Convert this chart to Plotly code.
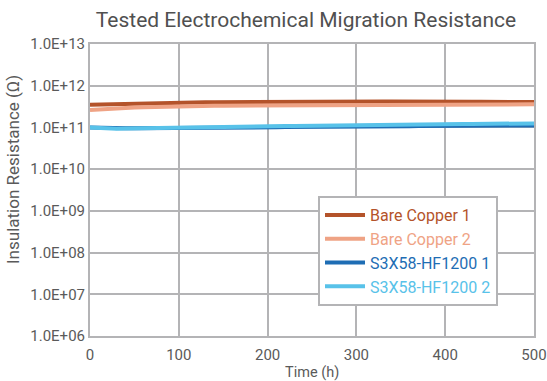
import plotly.graph_objects as go

time_h = list(range(0, 501, 10))

bare_copper_1 = [3.50e11, 3.55e11, 3.60e11, 3.68e11, 3.75e11, 3.80e11, 3.85e11, 3.90e11, 3.93e11, 3.96e11,
                 3.98e11, 4.00e11, 4.01e11, 4.02e11, 4.03e11, 4.05e11, 4.04e11, 4.06e11, 4.07e11, 4.06e11,
                 4.08e11, 4.10e11, 4.09e11, 4.11e11, 4.10e11, 4.12e11, 4.13e11, 4.12e11, 4.14e11, 4.15e11,
                 4.16e11, 4.18e11, 4.17e11, 4.19e11, 4.18e11, 4.20e11, 4.19e11, 4.21e11, 4.20e11, 4.19e11,
                 4.18e11, 4.17e11, 4.16e11, 4.15e11, 4.14e11, 4.12e11, 4.11e11, 4.10e11, 4.08e11, 4.06e11,
                 4.05e11]

bare_copper_2 = [2.60e11, 2.70e11, 2.80e11, 2.88e11, 2.95e11, 3.00e11, 3.05e11, 3.10e11, 3.14e11, 3.18e11,
                 3.22e11, 3.25e11, 3.28e11, 3.30e11, 3.31e11, 3.33e11, 3.34e11, 3.35e11, 3.36e11, 3.37e11,
                 3.38e11, 3.39e11, 3.40e11, 3.40e11, 3.41e11, 3.42e11, 3.43e11, 3.44e11, 3.45e11, 3.46e11,
                 3.47e11, 3.47e11, 3.48e11, 3.49e11, 3.50e11, 3.50e11, 3.51e11, 3.52e11, 3.52e11, 3.53e11,
                 3.53e11, 3.54e11, 3.54e11, 3.55e11, 3.55e11, 3.55e11, 3.56e11, 3.56e11, 3.57e11, 3.57e11,
                 3.58e11]

s3x58_1 = [1.00e11, 0.98e11, 0.96e11, 0.95e11, 0.95e11, 0.96e11, 0.96e11, 0.97e11, 0.97e11, 0.97e11,
           0.98e11, 0.98e11, 0.98e11, 0.99e11, 0.99e11, 0.99e11, 1.00e11, 1.00e11, 1.00e11, 1.01e11,
           1.01e11, 1.01e11, 1.02e11, 1.02e11, 1.03e11, 1.03e11, 1.03e11, 1.04e11, 1.04e11, 1.05e11,
           1.05e11, 1.05e11, 1.06e11, 1.06e11, 1.07e11, 1.07e11, 1.07e11, 1.08e11, 1.08e11, 1.08e11,
           1.09e11, 1.09e11, 1.09e11, 1.10e11, 1.10e11, 1.10e11, 1.11e11, 1.11e11, 1.11e11, 1.12e11,
           1.12e11]

s3x58_2 = [1.00e11, 0.97e11, 0.94e11, 0.93e11, 0.94e11, 0.95e11, 0.96e11, 0.97e11, 0.98e11, 0.99e11,
           1.00e11, 1.01e11, 1.02e11, 1.02e11, 1.03e11, 1.04e11, 1.04e11, 1.05e11, 1.05e11, 1.06e11,
           1.07e11, 1.07e11, 1.08e11, 1.08e11, 1.09e11, 1.10e11, 1.10e11, 1.11e11, 1.12e11, 1.12e11,
           1.13e11, 1.14e11, 1.14e11, 1.15e11, 1.16e11, 1.16e11, 1.17e11, 1.18e11, 1.18e11, 1.19e11,
           1.20e11, 1.20e11, 1.21e11, 1.21e11, 1.22e11, 1.22e11, 1.23e11, 1.23e11, 1.24e11, 1.24e11,
           1.25e11]

series_names = ["Bare Copper 1", "Bare Copper 2", "S3X58-HF1200 1", "S3X58-HF1200 2"]
series_values = [bare_copper_1, bare_copper_2, s3x58_1, s3x58_2]
series_colors = ["#B4532A", "#EFA385", "#1E6DB4", "#58C2E9"]

y_tickvals = [1e6, 1e7, 1e8, 1e9, 1e10, 1e11, 1e12, 1e13]
y_ticktext = ["1.0E+06", "1.0E+07", "1.0E+08", "1.0E+09", "1.0E+10", "1.0E+11", "1.0E+12", "1.0E+13"]
x_tickvals = [0, 100, 200, 300, 400, 500]

FONT = "Roboto, 'Noto Sans', sans-serif"
TEXT = "#5a5a5a"
GRID = "#b4b4b6"

fig = go.Figure()
for name, vals, col in zip(series_names, series_values, series_colors):
    fig.add_trace(go.Scatter(x=time_h, y=vals, mode="lines",
                             name=f"<span style='color:{col}'>{name}</span>",
                             line=dict(color=col, width=4)))

fig.update_layout(
    width=547, height=381,
    margin=dict(l=90, r=13, t=44, b=45, autoexpand=False),
    paper_bgcolor="white", plot_bgcolor="white",
    font=dict(family=FONT, color=TEXT, size=14),
    title=dict(text="Tested Electrochemical Migration Resistance",
               x=306 / 547, xref="container", xanchor="center",
               y=1 - 20 / 381, yref="container", yanchor="middle",
               font=dict(size=21, color="#505050", family=FONT)),
    xaxis=dict(range=[0, 500], tickvals=x_tickvals, showgrid=True, gridcolor=GRID, gridwidth=1.5,
               showline=True, linecolor=GRID, linewidth=2, mirror=True, zeroline=False,
               ticks="", tickfont=dict(size=15, color=TEXT), ticklabelstandoff=4, automargin=False),
    yaxis=dict(type="log", range=[6, 13], tickvals=y_tickvals, ticktext=y_ticktext,
               showgrid=True, gridcolor=GRID, gridwidth=1.5,
               showline=True, linecolor=GRID, linewidth=2, mirror=True, zeroline=False,
               ticks="", tickfont=dict(size=15, color=TEXT), automargin=False),
    legend=dict(x=(318 - 90) / 444, y=(336 - 196) / 292, xanchor="left", yanchor="top",
                bgcolor="white", bordercolor=GRID, borderwidth=2,
                font=dict(size=16, family=FONT), itemwidth=40, tracegroupgap=0),
    showlegend=True,
    annotations=[
        dict(text="Time (h)", xref="paper", yref="paper", x=0.5, y=(336 - 372) / 292,
             xanchor="center", yanchor="middle", showarrow=False,
             font=dict(size=14.5, color=TEXT, family=FONT)),
        dict(text="Insulation Resistance (Ω)", xref="paper", yref="paper",
             x=(13 - 90) / 444, y=(336 - 170) / 292, textangle=-90,
             xanchor="center", yanchor="middle", showarrow=False,
             font=dict(size=17, color=TEXT, family=FONT)),
    ],
)

fig.write_html("out.html", config={"displayModeBar": False},
               post_script="document.body.style.margin='0';")
